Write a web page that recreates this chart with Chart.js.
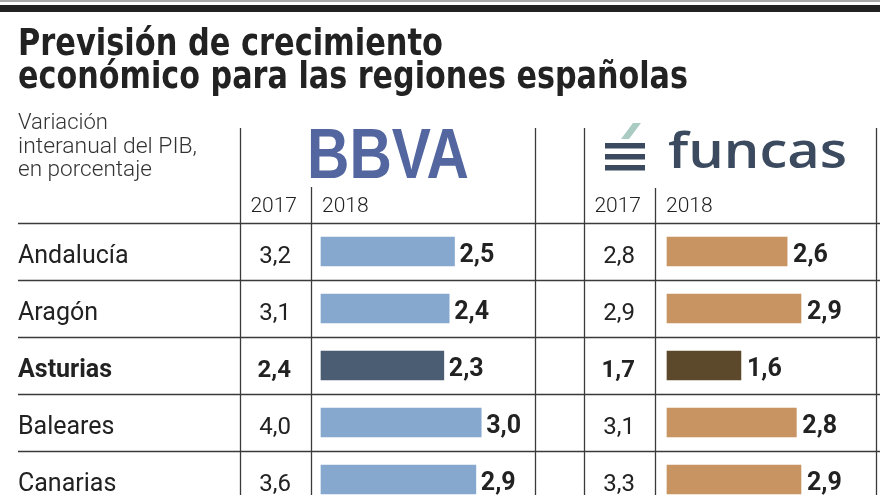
<!DOCTYPE html>
<html>
<head>
<meta charset="utf-8">
<script src="https://cdn.jsdelivr.net/npm/chart.js@4/dist/chart.umd.min.js"></script>
<style>
html,body{margin:0;padding:0;background:#fff;overflow:hidden;width:880px;height:495px;}
canvas{display:block;}
</style>
</head>
<body>
<canvas id="c" width="880" height="508"></canvas>
<script>
// ---- data ----
const titleLines = ['Previsión de crecimiento', 'económico para las regiones españolas'];
const subtitleLines = ['Variación', 'interanual del PIB,', 'en porcentaje'];
const regions = ['Andalucía', 'Aragón', 'Asturias', 'Baleares', 'Canarias'];
const yearLabels = ['2017', '2018'];
const bbva2017 = [3.2, 3.1, 2.4, 4.0, 3.6];
const bbva2018 = [2.5, 2.4, 2.3, 3.0, 2.9];
const funcas2017 = [2.8, 2.9, 1.7, 3.1, 3.3];
const funcas2018 = [2.6, 2.9, 1.6, 2.8, 2.9];
const highlightRegion = 'Asturias';

// ---- styles / layout ----
const W = 880;
const BBVA_ZERO = 321, BBVA_PX = 53.4;
const FUNC_ZERO = 667, FUNC_PX = 46.2;
const colBbva = '#87a8ce', colBbvaHi = '#4b5d72';
const colFunc = '#c89462', colFuncHi = '#5c482b';
const ink = '#222222';
const lineCol = '#3a3a3a';
const fmt = v => v.toFixed(1).replace('.', ',');
const isHi = i => regions[i] === highlightRegion;

function fitText(ctx, txt, x, y, targetW) {
  const w = ctx.measureText(txt).width;
  ctx.save();
  ctx.translate(x, y);
  ctx.scale(targetW / w, 1);
  ctx.fillText(txt, 0, 0);
  ctx.restore();
}

const tablePlugin = {
  id: 'tablePlugin',
  beforeDatasetsDraw(chart) {
    const ctx = chart.ctx;
    const y = chart.scales.y;
    ctx.save();
    ctx.fillStyle = '#a9a9a9';
    ctx.fillRect(0, 0, W, 2);
    ctx.fillStyle = '#222';
    ctx.fillRect(0, 5, W, 7);
    ctx.strokeStyle = lineCol;
    ctx.lineWidth = 1.3;
    const half = (y.getPixelForValue(1) - y.getPixelForValue(0)) / 2;
    ctx.beginPath();
    for (let i = 0; i < regions.length; i++) {
      const top = Math.round(y.getPixelForValue(i) - half) + 0.5;
      ctx.moveTo(18, top); ctx.lineTo(W, top);
    }
    const bottom = chart.height;
    [[240, 128], [311, 187], [535, 128], [584, 128], [655, 188], [876, 128]].forEach(([x, t]) => {
      ctx.moveTo(x + 0.5, t); ctx.lineTo(x + 0.5, bottom);
    });
    ctx.stroke();
    ctx.restore();
  },
  afterDatasetsDraw(chart) {
    const ctx = chart.ctx;
    const y = chart.scales.y;
    ctx.save();
    ctx.textBaseline = 'alphabetic';
    // title
    ctx.font = 'bold 38px "DejaVu Sans Condensed", "DejaVu Sans", sans-serif';
    ctx.fillStyle = '#222';
    fitText(ctx, titleLines[0], 18, 55, 425);
    fitText(ctx, titleLines[1], 18, 88, 670);
    // subtitle
    ctx.fillStyle = '#333';
    ctx.font = '300 22px Roboto, sans-serif';
    [129, 153, 176].forEach((by, k) => fitText(ctx, subtitleLines[k], 18, by,
      [90, 179, 134][k]));
    // logos
    ctx.fillStyle = '#5366a0';
    ctx.font = 'bold 71px "Liberation Sans", Arial, sans-serif';
    fitText(ctx, 'BBVA', 307, 178, 162);
    ctx.fillStyle = '#3b4a5e';
    ctx.fillRect(605, 143, 40, 5.5);
    ctx.fillRect(605, 154, 40, 5.5);
    ctx.fillRect(605, 165, 40, 5.5);
    ctx.fillStyle = '#a9cbc1';
    ctx.beginPath();
    ctx.moveTo(621, 139); ctx.lineTo(629, 139); ctx.lineTo(641, 123); ctx.lineTo(633, 123);
    ctx.closePath(); ctx.fill();
    ctx.fillStyle = '#3b4a5e';
    ctx.font = '600 49px "Open Sans", sans-serif';
    fitText(ctx, 'funcas', 668, 168, 179);
    // headers
    ctx.fillStyle = ink;
    ctx.font = '300 21px Roboto, sans-serif';
    ctx.textAlign = 'right';
    ctx.fillText(yearLabels[0], 297, 212);
    ctx.fillText(yearLabels[0], 641, 212);
    ctx.textAlign = 'left';
    ctx.fillText(yearLabels[1], 322, 212);
    ctx.fillText(yearLabels[1], 666, 212);
    // rows
    const mb = chart.getDatasetMeta(0).data;
    const mf = chart.getDatasetMeta(1).data;
    regions.forEach((r, i) => {
      const cy = y.getPixelForValue(i);
      const hi = isHi(i);
      ctx.fillStyle = ink;
      ctx.textAlign = 'left';
      ctx.font = (hi ? 'bold ' : '400 ') + '25px Roboto, sans-serif';
      ctx.fillText(r, 18, cy + 11.5);
      ctx.textAlign = 'right';
      ctx.font = (hi ? 'bold ' : '400 ') + '24px Roboto, sans-serif';
      ctx.fillText(fmt(bbva2017[i]), 291, cy + 11.5);
      ctx.fillText(fmt(funcas2017[i]), 635, cy + 11.5);
      ctx.textAlign = 'left';
      ctx.font = 'bold 25px Roboto, sans-serif';
      ctx.fillText(fmt(bbva2018[i]), mb[i].x + 5, cy + 10);
      ctx.fillText(fmt(funcas2018[i]), mf[i].x + 6, cy + 10);
    });
    ctx.restore();
  }
};

new Chart(document.getElementById('c'), {
  type: 'bar',
  data: {
    labels: regions,
    datasets: [
      {
        label: 'BBVA 2018',
        data: bbva2018,
        xAxisID: 'xb',
        backgroundColor: regions.map((r, i) => isHi(i) ? colBbvaHi : colBbva),
        barThickness: 29,
        grouped: false,
        borderWidth: 0
      },
      {
        label: 'Funcas 2018',
        data: funcas2018,
        xAxisID: 'xf',
        backgroundColor: regions.map((r, i) => isHi(i) ? colFuncHi : colFunc),
        barThickness: 29,
        grouped: false,
        borderWidth: 0
      }
    ]
  },
  options: {
    indexAxis: 'y',
    responsive: false,
    animation: false,
    devicePixelRatio: 1,
    layout: { padding: { top: 223, left: 0, right: 0, bottom: 0 } },
    plugins: { legend: { display: false }, tooltip: { enabled: false }, title: { display: false } },
    scales: {
      y: { type: 'category', offset: true, display: false },
      xb: { type: 'linear', position: 'bottom', display: false,
            min: -BBVA_ZERO / BBVA_PX, max: (W - BBVA_ZERO) / BBVA_PX },
      xf: { type: 'linear', position: 'top', display: false,
            min: -FUNC_ZERO / FUNC_PX, max: (W - FUNC_ZERO) / FUNC_PX }
    }
  },
  plugins: [tablePlugin]
});
</script>
</body>
</html>
